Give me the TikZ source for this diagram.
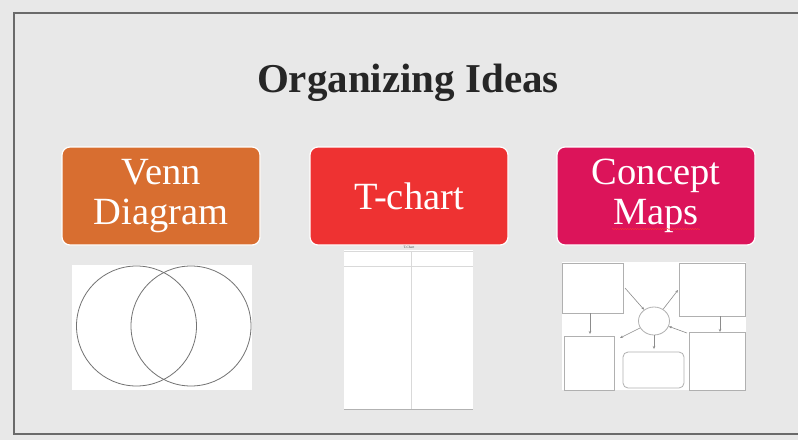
\documentclass[tikz,border=0pt]{standalone}
\usepackage{fontspec}
\setmainfont{Liberation Serif}
\usetikzlibrary{decorations.pathmorphing,arrows.meta,shapes.geometric}
\definecolor{bg}{HTML}{E8E8E8}
\definecolor{frame}{HTML}{6A6A6A}
\definecolor{venncol}{HTML}{D86E30}
\definecolor{tcol}{HTML}{EE3232}
\definecolor{conccol}{HTML}{DC145A}
\definecolor{titlecol}{HTML}{262626}
\definecolor{mapline}{HTML}{B0B0B0}
\tikzset{
  x=1pt,y=-1pt,
  catbox/.style={draw=white,line width=1.2pt,rounded corners=8pt,minimum width=198pt,minimum height=98pt,inner sep=0pt,text=white,align=center,font=\fontsize{38.5}{39.5}\selectfont},
  panel/.style={fill=white,draw=none},
  vcirc/.style={draw=black!55,line width=0.8pt},
  mapbox/.style={draw=mapline,line width=0.8pt,fill=white},
  maparrow/.style={draw=black!45,line width=0.6pt,-{Stealth[length=3pt,width=2.5pt]}},
  tline/.style={draw=black!15,line width=1pt}
}
\begin{document}
\begin{tikzpicture}
\useasboundingbox (0,0) rectangle (798,440);
\fill[bg] (0,0) rectangle (798,440);
\draw[frame,line width=1.5pt] (800,13) -- (14,13) -- (14,434) -- (800,434);
% title
\node[text=titlecol,font=\fontsize{41}{46}\selectfont\bfseries,anchor=base] (title) at (408,92) {Organizing Ideas};
% category boxes
\node[catbox,fill=venncol] (venn) at (161,196) {Venn\\Diagram};
\node[catbox,fill=tcol] (tchart) at (409,196) {T-chart};
\node[catbox,fill=conccol] (concept) at (656,196) {Concept\\Maps};
\draw[red!80,line width=0.4pt,decorate,decoration={snake,amplitude=0.6pt,segment length=2.5pt}] (612,229) -- (700,229);
% Venn panel
\fill[panel] (72,265) rectangle (252,390);
\draw[vcirc] (136.5,326) circle (60);
\draw[vcirc] (191,326) circle (60);
% T-chart panel
\node[font=\fontsize{3.5}{4}\selectfont,text=black!70,inner sep=0pt] (tlabel) at (409,247.5) {T-Chart};
\fill[panel] (344,250) rectangle (473,409);
\draw[tline] (344,251) -- (473,251);
\draw[tline] (344,266) -- (473,266);
\draw[tline] (411,251) -- (411,409);
\draw[black!30,line width=1pt] (344,409) -- (473,409);
% Concept map panel
\fill[panel] (562,262) rectangle (746,390);
\node[mapbox,minimum width=61pt,minimum height=50pt,inner sep=0pt] (tl) at (592.5,288) {};
\node[mapbox,minimum width=66pt,minimum height=53pt,inner sep=0pt] (tr) at (712,289.5) {};
\node[mapbox,ellipse,minimum width=31pt,minimum height=28pt,inner sep=0pt] (ell) at (654,321) {};
\node[mapbox,minimum width=50pt,minimum height=54pt,inner sep=0pt] (bl) at (589,363) {};
\node[mapbox,rounded corners=5pt,minimum width=61pt,minimum height=36pt,inner sep=0pt] (bm) at (653.5,370) {};
\node[mapbox,minimum width=56pt,minimum height=58pt,inner sep=0pt] (br) at (717,361) {};
\coordinate (a1s) at (625,288);
\coordinate (a2e) at (678,290);
\coordinate (a3e) at (620,338);
\coordinate (a4e) at (654,349);
\coordinate (a5s) at (687,333);
\coordinate (a6e) at (590,334);
\coordinate (a7e) at (720,332);
\draw[maparrow] (a1s) -- (ell);
\draw[maparrow] (ell) -- (a2e);
\draw[maparrow] (ell) -- (a3e);
\draw[maparrow] (ell) -- (a4e);
\draw[maparrow] (a5s) -- (ell);
\draw[maparrow] (tl.south -| a6e) -- (a6e);
\draw[maparrow] (tr.south -| a7e) -- (a7e);
\end{tikzpicture}
\end{document}
